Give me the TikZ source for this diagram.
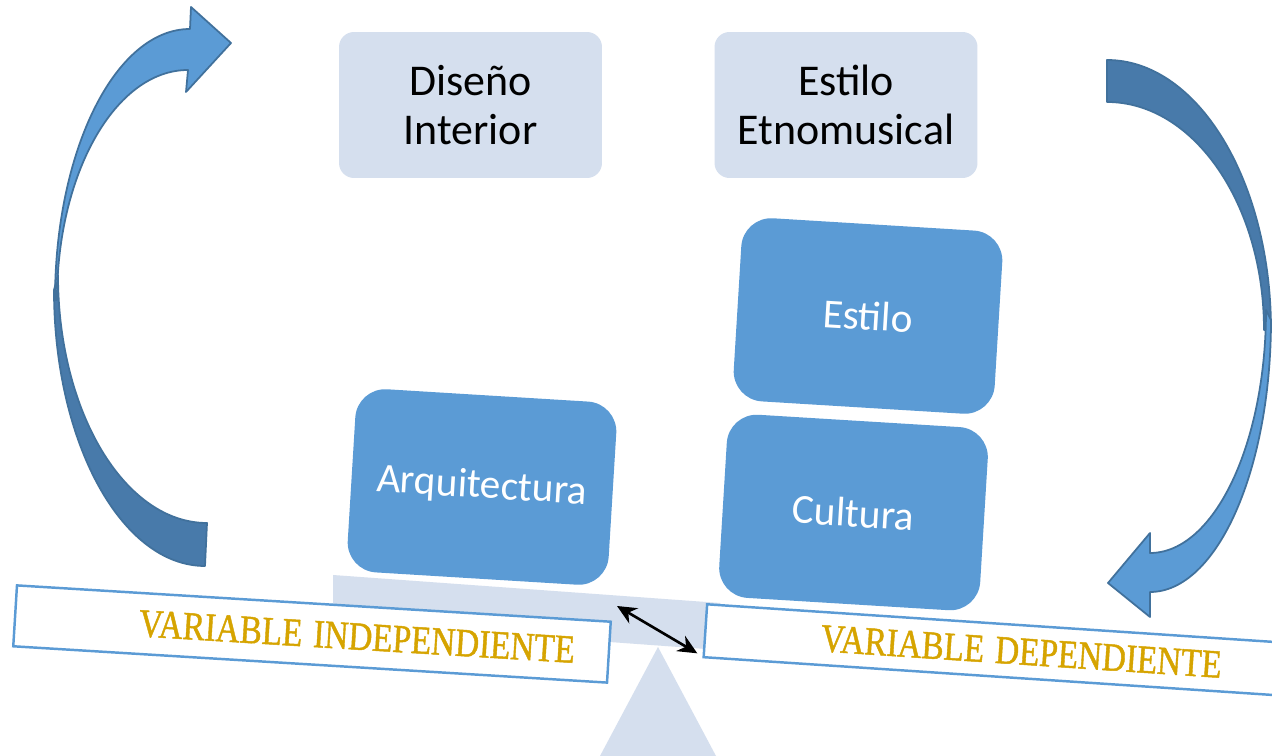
\documentclass[tikz,border=0pt]{standalone}
\usepackage{fontspec}
\setmainfont{Carlito}
\newfontfamily\labelfont[FakeBold=1.2]{Liberation Serif}
\usetikzlibrary{arrows.meta}

\definecolor{boxblue}{HTML}{5B9BD5}
\definecolor{arrowdark}{HTML}{487AAA}
\definecolor{arrowedge}{HTML}{41719C}
\definecolor{paleblue}{HTML}{D5DFEE}
\definecolor{gold}{RGB}{214,164,0}

\tikzset{
  topbox/.style={fill=paleblue, rounded corners=0.3cm, minimum width=5.26cm, minimum height=2.92cm, align=center, font=\fontsize{25}{28.3}\selectfont},
  bluebox/.style={fill=boxblue, text=white, rounded corners=0.6cm, minimum width=5.23cm, minimum height=3.67cm, rotate=-3.5, font=\fontsize{23.5}{28}\selectfont},
  varbox/.style={draw=boxblue, line width=1.4pt, fill=white, inner xsep=0pt, text=gold, font=\labelfont\fontsize{18.9}{22}\selectfont},
  curvearrow/.style={draw=arrowedge, line width=1pt, line join=round},
}
\newcommand{\tall}[1]{\scalebox{1}[1.2]{#1}}

\begin{document}
\begin{tikzpicture}[x=0.02cm, y=-0.02cm]
    \useasboundingbox (0,0) rectangle (1272,756);
    \clip (0,0) rectangle (1272,756);
    \fill[white] (0,0) rectangle (1272,756);
    \fill[paleblue] (658,647) -- (716,756) -- (600,756) -- cycle;
    \fill[paleblue] (333,575) -- (720,603) -- (720,650) -- (333,622) -- cycle;
    \node[topbox] (diseno) at (470.5,105) {Diseño\\Interior};
    \node[topbox] (etno) at (846,105) {Estilo\\Etnomusical};
    \node[bluebox] (arq) at (482,487) {Arquitectura};
    \node[bluebox] (estilo) at (868,316) {Estilo};
    \node[bluebox] (cultura) at (853.5,512.5) {Cultura};
    \node[varbox, rotate=-3.5, minimum width=11.9cm, minimum height=1.22cm, text width=10.54cm, align=right] (indep) at (312,634) {\tall{VARIABLE INDEPENDIENTE}};
    \node[varbox, rotate=-3.8, anchor=north west, minimum width=13.04cm, minimum height=1.06cm, text width=8.4cm, align=left] (dep) at (706,603) {\tall{VARIABLE DEPENDIENTE}};
    \coordinate (pivot) at (617,606);
    \draw[line width=1.5pt, {Stealth[length=11pt,width=10pt]}-{Stealth[length=11pt,width=10pt]}] (pivot) -- ([shift={(-5,-5)}]dep.south west);
    \draw[curvearrow, fill=arrowdark] (54,290) .. controls (54,442.4) and (121.6,566) .. (205,566) -- (207,523) .. controls (124.7,523) and (58,412) .. (58,275) -- cycle;
    \draw[curvearrow, fill=boxblue] (55,300) .. controls (55,150.3) and (115.4,29) .. (190,29) -- (191,7) -- (231,43) -- (186,92) -- (188,70) .. controls (115.6,70) and (57,173) .. (57,300) -- cycle;
    \draw[curvearrow, fill=arrowdark] (1107,60) .. controls (1197.6,60) and (1271,180.9) .. (1271,330) -- (1264,330) .. controls (1264,204.1) and (1193.7,102) .. (1107,102) -- cycle;
    \draw[curvearrow, fill=boxblue] (1271,320) .. controls (1271,470.2) and (1216.8,592) .. (1150,592) -- (1150,617) -- (1108,583) -- (1150,533) -- (1150,553) .. controls (1214,553) and (1266,444.2) .. (1266,310) -- cycle;
\end{tikzpicture}
\end{document}
